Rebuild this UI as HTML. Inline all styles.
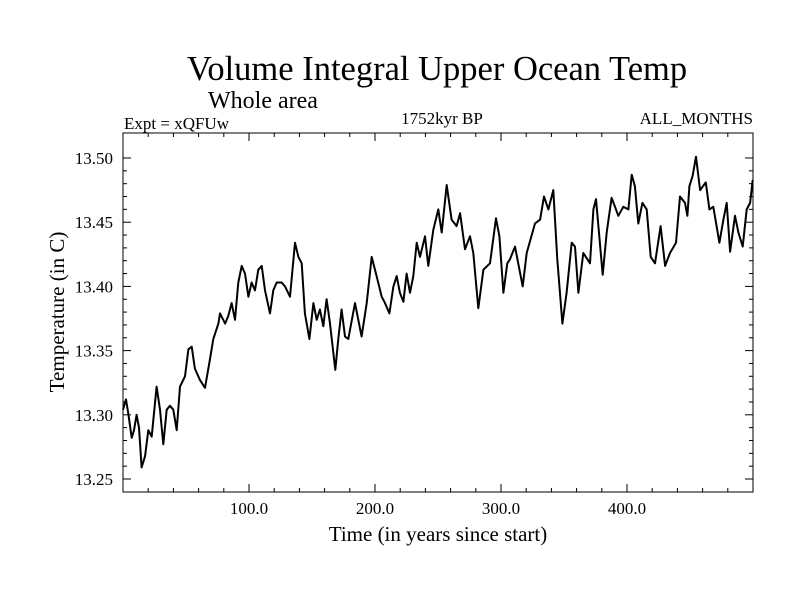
<!DOCTYPE html>
<html><head><meta charset="utf-8"><style>
body{margin:0;background:#fff;}
svg text{font-family:"Liberation Serif",serif;fill:#000;}
</style></head><body>
<svg id="chart" width="800" height="600" viewBox="0 0 800 600">
<rect width="800" height="600" fill="#fff"/>
<text x="437" y="80" font-size="34.5" text-anchor="middle">Volume Integral Upper Ocean Temp</text>
<text x="208" y="108" font-size="24">Whole area</text>
<text x="124" y="129" font-size="17">Expt = xQFUw</text>
<text x="442" y="124" font-size="17" text-anchor="middle">1752kyr BP</text>
<text x="753" y="124" font-size="17" text-anchor="end">ALL_MONTHS</text>
<text x="438" y="541" font-size="21" text-anchor="middle">Time (in years since start)</text>
<text x="0" y="0" font-size="21" text-anchor="middle" transform="translate(64,312) rotate(-90)">Temperature (in C)</text>
<g id="axes"></g>
<g id="series"></g>
<rect x="123" y="133" width="630" height="359" fill="none" stroke="#000" stroke-width="1"/>
</svg>
<script>
const years=[0,2.4,4.2,6.9,8.7,10.8,12.7,14.8,17.5,20.1,22.8,26.7,29.4,32.0,34.7,37.3,39.9,42.6,45.2,49.2,51.9,54.5,57.1,61.1,65.1,69.0,71.7,75.7,77.0,81.0,83.6,86.2,88.9,91.5,94.2,96.8,99.5,102.1,104.8,107.4,110.1,112.7,116.7,119.3,122.0,125.9,128.6,132.5,136.5,139.2,141.8,144.4,147.9,151.1,153.7,156.3,159.0,161.6,164.3,168.5,170.9,173.5,176.2,178.8,184.1,189.4,193.4,197.4,201.3,205.3,207.9,211.4,214.6,217.2,219.8,222.5,225.1,227.8,230.4,233.1,235.7,239.7,242.3,246.3,250.2,252.9,256.9,260.8,264.8,267.5,271.4,275.4,278.0,282.0,286.0,291.3,296.0,298.7,301.9,305.0,307.1,311.1,317.2,320.4,327.0,331.0,334.1,337.6,341.5,344.7,348.7,352.1,356.1,358.7,361.4,365.3,370.6,373.3,375.4,380.7,383.9,387.8,390.5,393.1,397.1,401.1,403.7,406.3,409.0,412.2,415.6,418.8,422.2,426.7,430.2,434.1,438.9,442.1,446.0,447.9,449.5,452.1,454.8,458.0,462.5,465.4,468.5,473.3,476.5,479.1,481.8,485.7,488.4,491.8,495.0,497.7,499.8];
const temps=[13.304,13.312,13.301,13.282,13.288,13.300,13.290,13.259,13.268,13.288,13.283,13.322,13.304,13.277,13.304,13.307,13.304,13.288,13.322,13.330,13.351,13.353,13.336,13.327,13.321,13.343,13.359,13.371,13.379,13.371,13.377,13.387,13.374,13.403,13.416,13.410,13.392,13.403,13.397,13.413,13.416,13.397,13.379,13.397,13.403,13.403,13.400,13.392,13.434,13.423,13.418,13.379,13.359,13.387,13.374,13.382,13.369,13.390,13.371,13.335,13.359,13.382,13.361,13.359,13.387,13.361,13.387,13.423,13.408,13.392,13.387,13.379,13.400,13.408,13.395,13.388,13.410,13.395,13.408,13.434,13.423,13.439,13.416,13.444,13.460,13.442,13.479,13.452,13.447,13.457,13.429,13.439,13.426,13.383,13.413,13.418,13.453,13.439,13.395,13.418,13.421,13.431,13.400,13.426,13.449,13.452,13.470,13.460,13.475,13.421,13.371,13.395,13.434,13.431,13.395,13.426,13.418,13.460,13.468,13.409,13.442,13.469,13.462,13.455,13.462,13.460,13.487,13.478,13.449,13.465,13.460,13.423,13.418,13.447,13.416,13.426,13.434,13.470,13.465,13.455,13.478,13.486,13.501,13.475,13.481,13.460,13.462,13.434,13.452,13.465,13.427,13.455,13.442,13.431,13.460,13.465,13.483];
const xTickLabels=["100.0","200.0","300.0","400.0"];
const yTickLabels=["13.25","13.30","13.35","13.40","13.45","13.50"];
const NS="http://www.w3.org/2000/svg";
const L=123,R=753,T=133,B=492;
const X0=0,X1=500,Y0=13.25-13/1284,Y1=13.50+25/1284;
function sx(v){return L+(v-X0)/(X1-X0)*(R-L);}
function sy(v){return B-(v-Y0)/(Y1-Y0)*(B-T);}
const axes=document.getElementById('axes');
function line(x1,y1,x2,y2,name){const l=document.createElementNS(NS,'line');l.setAttribute('x1',x1);l.setAttribute('y1',y1);l.setAttribute('x2',x2);l.setAttribute('y2',y2);l.setAttribute('stroke','#000');l.setAttribute('stroke-width','1');


axes.appendChild(l);}
for(let v=20;v<500;v+=20){const x=sx(v);const len=(v%100===0)?8:4;line(x,B,x,B-len,'x-tick');line(x,T,x,T+len,'x-tick-top');}
for(let i=0;i<=25;i++){const v=13.25+i*0.01;const y=sy(v);const len=(i%5===0)?8:4;line(L,y,L+len,y,'y-tick');line(R,y,R-len,y,'y-tick-right');}
xTickLabels.forEach(s=>{const t=document.createElementNS(NS,'text');t.setAttribute('x',sx(parseFloat(s)));t.setAttribute('y',514);t.setAttribute('font-size','17');t.setAttribute('text-anchor','middle');t.textContent=s;


axes.appendChild(t);});
yTickLabels.forEach(s=>{const t=document.createElementNS(NS,'text');t.setAttribute('x',113);t.setAttribute('y',sy(parseFloat(s))+6);t.setAttribute('font-size','17');t.setAttribute('text-anchor','end');t.textContent=s;


axes.appendChild(t);});
const p=document.createElementNS(NS,'polyline');
p.setAttribute('points',years.map((y,i)=>sx(y).toFixed(1)+','+sy(temps[i]).toFixed(1)).join(' '));
p.setAttribute('fill','none');p.setAttribute('stroke','#000');p.setAttribute('stroke-width','2');p.setAttribute('stroke-linejoin','round');


document.getElementById('series').appendChild(p);
</script>
</body></html>
